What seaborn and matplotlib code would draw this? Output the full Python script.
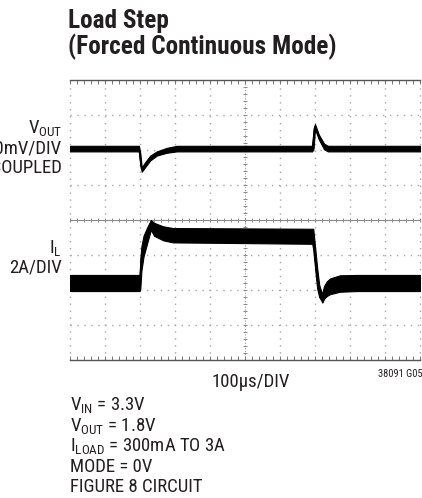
import numpy as np
import pandas as pd
import matplotlib
import matplotlib.pyplot as plt
import matplotlib.font_manager as fm
import seaborn as sns
from matplotlib.ticker import MultipleLocator

# trace envelopes (x in us, y in divisions)
vout_t = [0, 197, 201, 205, 214, 229, 248, 276, 305, 692, 696, 700, 711, 726, 737, 1000]
vout_hi = [2.12, 2.12, 1.90, 1.50, 1.64, 1.84, 1.96, 2.06, 2.12, 2.12, 2.62, 2.74, 2.44, 2.18, 2.12, 2.12]
vout_lo = [1.96, 1.96, 1.55, 1.38, 1.50, 1.70, 1.84, 1.92, 1.96, 1.96, 2.05, 2.60, 2.30, 2.02, 1.96, 1.96]

il_t = [0, 199, 201, 204, 210, 220, 231, 240, 266, 294, 500, 692, 695, 700, 706, 712, 718, 721, 726, 734, 743, 771, 820, 1000]
il_hi = [-1.57, -1.57, -1.10, -0.75, -0.45, -0.22, 0.0, -0.08, -0.18, -0.23, -0.24, -0.25,
         -0.25, -0.75, -1.35, -1.85, -2.05, -2.08, -1.88, -1.75, -1.67, -1.58, -1.57, -1.57]
il_lo = [-2.03, -2.03, -1.95, -1.45, -1.05, -0.68, -0.28, -0.45, -0.58, -0.64, -0.66, -0.68,
         -0.85, -1.35, -1.95, -2.20, -2.30, -2.36, -2.25, -2.17, -2.12, -2.05, -2.03, -2.03]

title_lines = ["Load Step", "(Forced Continuous Mode)"]
notes = [r"V$_{\mathrm{IN}}$ = 3.3V", r"V$_{\mathrm{OUT}}$ = 1.8V",
         r"I$_{\mathrm{LOAD}}$ = 300mA TO 3A", "MODE = 0V", "FIGURE 8 CIRCUIT"]

sns.set_theme(style="white")

# pick a condensed sans if there is one
fonts = fm.fontManager.ttflist
names = {f.name for f in fonts}
stretch = "normal"
main = "Liberation Sans"
for cand in ["Liberation Sans Narrow", "Roboto Condensed", "Open Sans Condensed"]:
    if cand in names:
        main = cand
        break
else:
    if any(f.name == "DejaVu Sans" and f.stretch == "condensed" for f in fonts):
        main = "DejaVu Sans"
        stretch = "condensed"
narrow = main != "Liberation Sans"

plt.rcParams["font.family"] = [main, "DejaVu Sans"]
plt.rcParams["font.stretch"] = stretch
plt.rcParams["mathtext.fontset"] = "custom"
plt.rcParams["mathtext.rm"] = main
plt.rcParams["mathtext.it"] = main
ink = "#231f20"
fs_title = 18.2 if narrow else 14.5
fs_body = 13.5 if narrow else 11

W, H = 422, 498
fig = plt.figure(figsize=(W / 100, H / 100), dpi=100)
ax = fig.add_axes([70 / W, 138 / H, 350 / W, 280 / H])
ax.set_xlim(0, 1000)
ax.set_ylim(-4, 4)

# graticule
grid_c = "#a8a8a8"
for x in range(100, 1000, 100):
    if x != 500:
        ax.axvline(x, color=grid_c, lw=1, ls=(0, (1, 4)), zorder=0)
for y in [-3, -2, -1, 1, 2, 3]:
    ax.axhline(y, color=grid_c, lw=1, ls=(0, (1, 4)), zorder=0)
for x in [0, 1000]:
    ax.axvline(x, color=grid_c, lw=1, ls=(0, (1, 4)), zorder=0, clip_on=False)
ax.axhline(0, color="#8a8a8a", lw=0.8, zorder=0)
ax.axvline(500, color="#9a9a9a", lw=0.8, ls=(0, (1, 1.5)), zorder=0)
ax.scatter(np.arange(0, 1001, 20), np.zeros(51), marker="|", s=12, color="#8a8a8a", lw=0.7, zorder=0)
ax.scatter(np.full(41, 500), np.arange(-4, 4.01, 0.2), marker="_", s=12, color="#8a8a8a", lw=0.7, zorder=0)

for side in ["left", "right"]:
    ax.spines[side].set_visible(False)
for side in ["top", "bottom"]:
    ax.spines[side].set_color("#555555")
    ax.spines[side].set_linewidth(1)
ax.xaxis.set_major_locator(MultipleLocator(100))
ax.xaxis.set_minor_locator(MultipleLocator(20))
ax.tick_params(axis="x", which="both", direction="in", top=True, bottom=True,
               labelbottom=False, length=3, width=0.7, color="#777777")
ax.set_yticks([])

# traces
for t, hi, lo in [(vout_t, vout_hi, vout_lo), (il_t, il_hi, il_lo)]:
    df = pd.DataFrame({"t": list(t) * 2, "v": list(hi) + list(lo)})
    sns.lineplot(data=df, x="t", y="v", estimator="mean", errorbar=("pi", 100),
                 color="black", lw=1.0, err_kws={"alpha": 1, "lw": 0.8, "edgecolor": "black"},
                 ax=ax, zorder=3)
ax.set_xlabel("")
ax.set_ylabel("")

def px(x, y):
    return x / W, 1 - y / H

# title
fig.text(*px(68, 28), title_lines[0], fontsize=fs_title, fontweight="bold", color=ink, va="baseline")
fig.text(*px(68, 54), title_lines[1], fontsize=fs_title, fontweight="bold", color=ink, va="baseline")

# channel labels
for y, s in [(133, r"V$_{\mathrm{OUT}}$"), (153, "100mV/DIV"), (173, "AC COUPLED"),
             (253, r"I$_{\mathrm{L}}$"), (272, "2A/DIV")]:
    fig.text(*px(62, y), s, fontsize=fs_body, color=ink, ha="right", va="baseline")

fig.text(*px(251, 387), "100µs/DIV", fontsize=fs_body, color=ink, ha="center", va="baseline")
fig.text(*px(423, 377), "38091 G05", fontsize=7.5, color=ink, ha="right", va="baseline")

for i, s in enumerate(notes):
    fig.text(*px(70, 410 + 20.5 * i), s, fontsize=fs_body, color=ink, va="baseline")

fig.savefig("out.png", dpi=100)
